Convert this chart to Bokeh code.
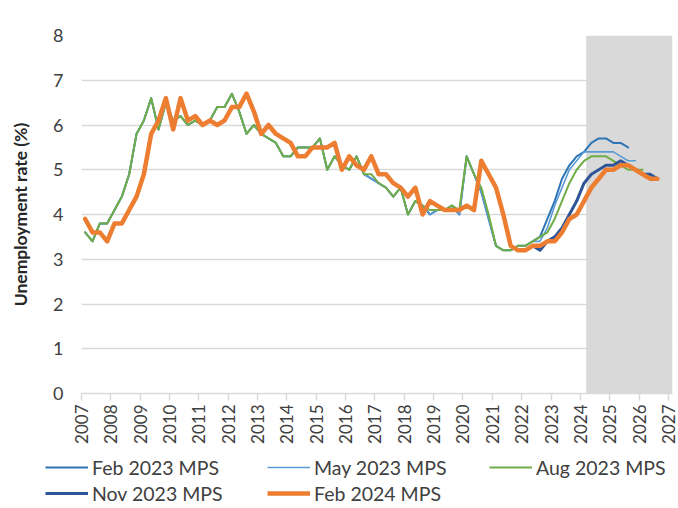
import math
from bokeh.plotting import figure
from bokeh.layouts import column
from bokeh.models import ColumnDataSource, Legend, LegendItem, FixedTicker, Range1d
from bokeh.embed import file_html
from bokeh.resources import INLINE

# ---------------- data (quarterly, starting 2007 Q1) ----------------
start_year = 2007
years = list(range(2007, 2028))
year_labels = [str(y) for y in years]
y_ticks = [0, 1, 2, 3, 4, 5, 6, 7, 8]
proj_start = 2024.2
proj_end = 2027.14

feb2023_mps = [3.6, 3.4, 3.8, 3.8,
               4.1, 4.4, 4.9, 5.8,
               6.1, 6.6, 5.9, 6.5,
               6.1, 6.2, 6.0, 6.1,
               6.0, 6.1, 6.4, 6.4,
               6.7, 6.3, 5.8, 6.0,
               5.8, 5.7, 5.6, 5.3,
               5.3, 5.5, 5.5, 5.5,
               5.7, 5.0, 5.3, 5.1,
               5.0, 5.3, 4.9, 4.8,
               4.7, 4.6, 4.4, 4.6,
               4.0, 4.3, 4.2, 4.0,
               4.1, 4.1, 4.2, 4.0,
               5.3, 4.9, 4.5, 3.9,
               3.3, 3.2, 3.2, 3.3,
               3.3, 3.4, 3.5, 3.9,
               4.3, 4.8, 5.1, 5.3,
               5.4, 5.6, 5.7, 5.7,
               5.6, 5.6, 5.5]

may2023_mps = [3.6, 3.4, 3.8, 3.8,
               4.1, 4.4, 4.9, 5.8,
               6.1, 6.6, 5.9, 6.5,
               6.1, 6.2, 6.0, 6.1,
               6.0, 6.1, 6.4, 6.4,
               6.7, 6.3, 5.8, 6.0,
               5.8, 5.7, 5.6, 5.3,
               5.3, 5.5, 5.5, 5.5,
               5.7, 5.0, 5.3, 5.1,
               5.0, 5.3, 4.9, 4.8,
               4.7, 4.6, 4.4, 4.6,
               4.0, 4.3, 4.2, 4.0,
               4.1, 4.1, 4.2, 4.0,
               5.3, 4.9, 4.5, 3.9,
               3.3, 3.2, 3.2, 3.3,
               3.3, 3.4, 3.4, 3.7,
               4.2, 4.6, 5.0, 5.2,
               5.4, 5.4, 5.4, 5.4,
               5.4, 5.3, 5.2, 5.2]

aug2023_mps = [3.6, 3.4, 3.8, 3.8,
               4.1, 4.4, 4.9, 5.8,
               6.1, 6.6, 5.9, 6.5,
               6.1, 6.2, 6.0, 6.1,
               6.0, 6.1, 6.4, 6.4,
               6.7, 6.3, 5.8, 6.0,
               5.8, 5.7, 5.6, 5.3,
               5.3, 5.5, 5.5, 5.5,
               5.7, 5.0, 5.3, 5.1,
               5.0, 5.3, 4.9, 4.9,
               4.7, 4.6, 4.4, 4.6,
               4.0, 4.3, 4.2, 4.1,
               4.1, 4.1, 4.2, 4.1,
               5.3, 4.9, 4.6, 4.0,
               3.3, 3.2, 3.2, 3.3,
               3.3, 3.4, 3.5, 3.6,
               3.9, 4.3, 4.7, 5.0,
               5.2, 5.3, 5.3, 5.3,
               5.2, 5.1, 5.0, 5.0,
               5.0]

nov2023_mps = [3.9, 3.6, 3.6, 3.4,
               3.8, 3.8, 4.1, 4.4,
               4.9, 5.8, 6.1, 6.6,
               5.9, 6.6, 6.1, 6.2,
               6.0, 6.1, 6.0, 6.1,
               6.4, 6.4, 6.7, 6.3,
               5.8, 6.0, 5.8, 5.7,
               5.6, 5.3, 5.3, 5.5,
               5.5, 5.5, 5.6, 5.0,
               5.3, 5.1, 5.0, 5.3,
               4.9, 4.9, 4.7, 4.6,
               4.4, 4.6, 4.0, 4.3,
               4.2, 4.1, 4.1, 4.1,
               4.2, 4.1, 5.2, 4.9,
               4.6, 4.0, 3.3, 3.2,
               3.2, 3.3, 3.2, 3.4,
               3.5, 3.7, 4.0, 4.3,
               4.7, 4.9, 5.0, 5.1,
               5.1, 5.2, 5.1, 5.0,
               4.9, 4.9, 4.8]

feb2024_mps = [3.9, 3.6, 3.6, 3.4,
               3.8, 3.8, 4.1, 4.4,
               4.9, 5.8, 6.1, 6.6,
               5.9, 6.6, 6.1, 6.2,
               6.0, 6.1, 6.0, 6.1,
               6.4, 6.4, 6.7, 6.3,
               5.8, 6.0, 5.8, 5.7,
               5.6, 5.3, 5.3, 5.5,
               5.5, 5.5, 5.6, 5.0,
               5.3, 5.1, 5.0, 5.3,
               4.9, 4.9, 4.7, 4.6,
               4.4, 4.6, 4.0, 4.3,
               4.2, 4.1, 4.1, 4.1,
               4.2, 4.1, 5.2, 4.9,
               4.6, 4.0, 3.3, 3.2,
               3.2, 3.3, 3.3, 3.4,
               3.4, 3.6, 3.9, 4.0,
               4.3, 4.6, 4.8, 5.0,
               5.0, 5.1, 5.1, 5.0,
               4.9, 4.8, 4.8]

series_names = ["Feb 2023 MPS", "May 2023 MPS", "Aug 2023 MPS", "Nov 2023 MPS", "Feb 2024 MPS"]
series_values = [feb2023_mps, may2023_mps, aug2023_mps, nov2023_mps, feb2024_mps]
series_colors = ["#2E75B6", "#5B9BD5", "#70AD47", "#2F5597", "#ED7D31"]
series_widths = [2.0, 1.6, 2.0, 3.0, 4.5]


def quarter_dates(n):
    # mid-quarter position of each quarterly observation
    return [start_year + (i + 0.5) / 4 for i in range(n)]


FONT = "Lato"
TEXT = "#404040"
GRID = "#D9D9D9"

p = figure(width=678, height=446, output_backend="svg", toolbar_location=None,
           x_range=Range1d(start_year, proj_end), y_range=Range1d(y_ticks[0], y_ticks[-1]),
           min_border_left=81, min_border_right=6, min_border_top=35, min_border_bottom=52)
p.frame_align = False
p.outline_line_color = None
p.background_fill_color = "white"
p.border_fill_color = "white"

# projection shading
p.quad(left=[proj_start], right=[proj_end], bottom=[y_ticks[0]], top=[y_ticks[-1]],
       fill_color=GRID, line_color=None)

for name, vals, col, w in zip(series_names, series_values, series_colors, series_widths):
    src = ColumnDataSource(dict(x=quarter_dates(len(vals)), y=vals))
    p.line("x", "y", source=src, line_color=col, line_width=w,
           line_join="round", line_cap="round")

# grid
p.xgrid.visible = False
p.ygrid.ticker = FixedTicker(ticks=y_ticks)
p.ygrid.grid_line_color = GRID
p.ygrid.grid_line_width = 1.5

# x axis
xa = p.xaxis[0]
xa.ticker = FixedTicker(ticks=years)
xa.major_label_overrides = {y: lab for y, lab in zip(years, year_labels)}
xa.axis_line_color = GRID
xa.axis_line_width = 1.5
xa.major_tick_line_color = GRID
xa.major_tick_line_width = 1.5
xa.major_tick_out = 7
xa.major_tick_in = 0
xa.minor_tick_line_color = None
xa.major_label_orientation = math.pi / 2
xa.major_label_standoff = 4
xa.major_label_text_font = FONT
xa.major_label_text_font_size = "17px"
xa.major_label_text_color = TEXT

# y axis
ya = p.yaxis[0]
ya.ticker = FixedTicker(ticks=y_ticks)
ya.axis_line_color = None
ya.major_tick_line_color = None
ya.minor_tick_line_color = None
ya.major_tick_out = 0
ya.major_label_standoff = 18
ya.major_label_text_font = FONT
ya.major_label_text_font_size = "18px"
ya.major_label_text_color = TEXT
ya.axis_label = "Unemployment rate (%)"
ya.axis_label_text_font = FONT
ya.axis_label_text_font_style = "bold"
ya.axis_label_text_font_size = "17.5px"
ya.axis_label_text_color = "#262626"
ya.axis_label_standoff = 19

# ---------------- legend strip below the chart ----------------
lg = figure(width=678, height=60, output_backend="svg", toolbar_location=None,
            x_axis_location=None, y_axis_location=None,
            x_range=Range1d(0, 1), y_range=Range1d(0, 1),
            min_border_left=0, min_border_right=0, min_border_top=0, min_border_bottom=0)
lg.frame_align = False
lg.outline_line_color = None
lg.grid.visible = False
lg.background_fill_color = "white"
lg.border_fill_color = "white"

items = []
for name, vals, col, w in zip(series_names, series_values, series_colors, series_widths):
    # one-point proxy (draws nothing itself) that carries each series' line style
    proxy = ColumnDataSource(dict(x=quarter_dates(1), y=vals[:1]))
    r = lg.line("x", "y", source=proxy, line_color=col, line_width=w, line_cap="butt")
    items.append(LegendItem(label=name, renderers=[r]))

legend = Legend(items=items, location=(45, 0), orientation="horizontal", ncols=3,
                glyph_width=43, glyph_height=26, label_height=26, label_width=175,
                label_standoff=4, spacing=0, padding=0, margin=0,
                border_line_color=None, background_fill_alpha=0,
                label_text_font=FONT, label_text_font_size="19.5px",
                label_text_color=TEXT)
lg.add_layout(legend, "center")

layout = column(p, lg, spacing=0)
open("out.html", "w").write(file_html(layout, INLINE))
